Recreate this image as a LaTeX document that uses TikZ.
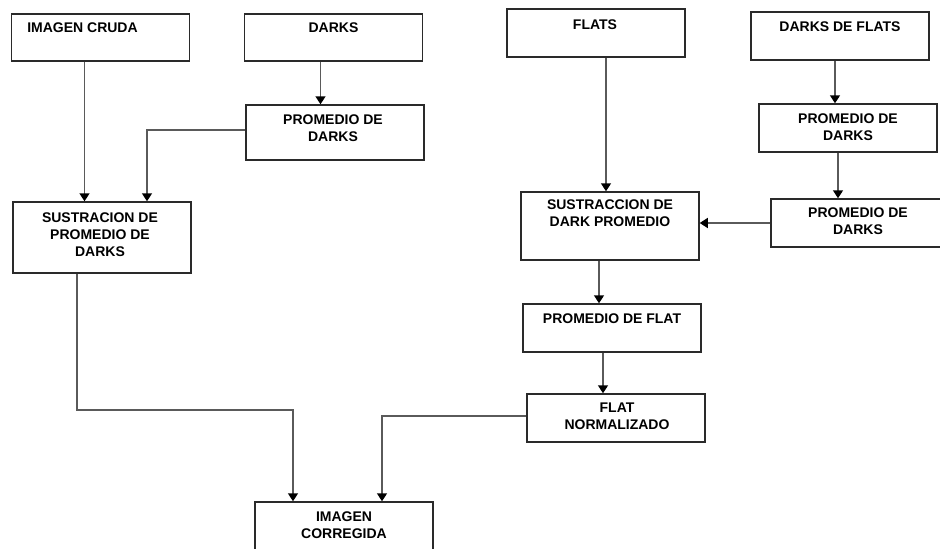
\documentclass[tikz,border=0pt]{standalone}
\usepackage{fontspec}
\setmainfont{Liberation Sans}
\usetikzlibrary{arrows.meta}
\definecolor{boxline}{HTML}{2A2A2A}
\definecolor{conn}{HTML}{5A5A5A}
\tikzset{
  box/.style={draw=boxline, line width=1.5pt, minimum width=178pt, inner sep=0pt, fill=white},
  txt/.style={anchor=north, inner sep=0pt, align=center, font=\fontsize{14}{17}\selectfont\bfseries},
  arr/.style={draw=conn, line width=1.6pt, -{Triangle[width=10pt,length=8pt,fill=black,color=black]}},
  ln/.style={draw=conn, line width=1.6pt}
}
\begin{document}
\begin{tikzpicture}[x=1pt,y=-1pt]
\useasboundingbox (0,0) rectangle (940,549);
\clip (0,0) rectangle (940,549);
\fill[white] (0,0) rectangle (940,549);
% boxes (centres from pixel boxes)
\node[box, minimum height=47pt] (A) at (100.5,37.5) {};
\node[box, minimum height=47pt] (B) at (333.5,37.5) {};
\node[box, minimum height=55pt] (C) at (335,132.5) {};
\node[box, minimum height=71pt] (D) at (102,237.5) {};
\node[box, minimum height=48pt] (E) at (596,33) {};
\node[box, minimum height=48pt] (F) at (840,36) {};
\node[box, minimum height=48pt] (G) at (848,128) {};
\node[box, minimum height=48pt] (H) at (860,223) {};
\node[box, minimum height=68pt] (I) at (610,226) {};
\node[box, minimum height=48pt] (J) at (612,328) {};
\node[box, minimum height=48pt] (K) at (616,418) {};
\node[box, minimum height=70pt] (L) at (344,537) {};
% texts
\node[txt] (At) at ([xshift=-18pt,yshift=-9pt]A.north) {IMAGEN CRUDA};
\node[txt] (Bt) at ([yshift=-9pt]B.north) {DARKS};
\node[txt] (Ct) at ([xshift=-2pt,yshift=-10pt]C.north) {PROMEDIO DE\\DARKS};
\node[txt] (Dt) at ([xshift=-2pt,yshift=-11pt]D.north) {SUSTRACION DE\\PROMEDIO DE\\DARKS};
\node[txt] (Et) at ([xshift=-1pt,yshift=-11pt]E.north) {FLATS};
\node[txt] (Ft) at ([yshift=-10pt]F.north) {DARKS DE FLATS};
\node[txt] (Gt) at ([yshift=-10pt]G.north) {PROMEDIO DE\\DARKS};
\node[txt] (Ht) at ([xshift=-2pt,yshift=-9pt]H.north) {PROMEDIO DE\\DARKS};
\node[txt] (It) at ([yshift=-8pt]I.north) {SUSTRACCION DE\\DARK PROMEDIO};
\node[txt] (Jt) at ([yshift=-10pt]J.north) {PROMEDIO DE FLAT};
\node[txt] (Kt) at ([xshift=1pt,yshift=-9pt]K.north) {FLAT\\NORMALIZADO};
\node[txt] (Lt) at ([yshift=-10pt]L.north) {IMAGEN\\CORREGIDA};
% connectors
\coordinate (j1) at (77,410);
\coordinate (j2) at (382,416);
\draw[arr] ([xshift=-16pt]A.south) -- ([xshift=-16pt]A.south |- D.north);
\draw[arr] ([xshift=-13pt]B.south) -- ([xshift=-13pt]B.south |- C.north);
\draw[arr] ([yshift=2.5pt]C.west) -| ([xshift=45pt]D.north);
\draw[arr] ([xshift=-25pt]D.south) -- (j1) -| ([xshift=-51pt]L.north);
\draw[arr] ([xshift=10pt]E.south) -- ([xshift=10pt]E.south |- I.north);
\draw[arr] ([xshift=-5pt]F.south) -- ([xshift=-5pt]F.south |- G.north);
\draw[arr] ([xshift=-10pt]G.south) -- ([xshift=-10pt]G.south |- H.north);
\draw[arr] (H.west) -- (H.west -| I.east);
\draw[arr] ([xshift=-11pt]I.south) -- ([xshift=-11pt]I.south |- J.north);
\draw[arr] ([xshift=-9pt]J.south) -- ([xshift=-9pt]J.south |- K.north);
\draw[arr] (K.west |- j2) -- (j2) -- (j2 |- L.north);
\end{tikzpicture}
\end{document}
